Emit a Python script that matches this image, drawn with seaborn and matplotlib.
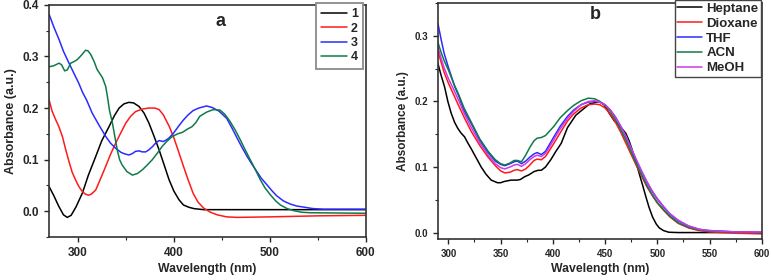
import matplotlib
matplotlib.use("Agg")
import matplotlib.pyplot as plt
import seaborn as sns
from matplotlib.ticker import MultipleLocator, FormatStrFormatter

# ---- panel a: compounds 1-4 (wavelength nm, absorbance) ----
wl_1 = [270, 275, 280, 285, 289, 293, 298, 304.7, 311, 318.6, 325, 332.5, 338, 343, 348, 353, 358, 363.75,
        369, 374, 379, 384.6, 390, 395, 400, 405.4, 410, 415.8, 421, 426, 431, 600]
abs_1 = [0.048, 0.03, 0.01, -0.007, -0.012, -0.008, 0.008, 0.035, 0.07, 0.106, 0.137, 0.164, 0.185, 0.2, 0.208,
         0.211, 0.21, 0.203, 0.19, 0.171, 0.147, 0.119, 0.089, 0.061, 0.039, 0.022, 0.012, 0.0075, 0.005, 0.004,
         0.003, 0.003]

wl_2 = [270, 273, 277, 280, 283.9, 287, 290.8, 294, 297.8, 301, 304.7, 308, 311, 314, 318.6, 323, 329, 334,
        339.4, 345, 350, 355, 360, 367, 374, 380, 384.6, 389, 395, 399.5, 405, 410, 415, 420, 425, 431, 438, 445,
        455, 466, 500, 550, 600]
abs_2 = [0.216, 0.195, 0.177, 0.165, 0.145, 0.122, 0.096, 0.076, 0.06, 0.048, 0.038, 0.033, 0.031, 0.033, 0.041,
         0.06, 0.087, 0.11, 0.132, 0.153, 0.171, 0.184, 0.193, 0.198, 0.2, 0.2, 0.197, 0.187, 0.165, 0.145, 0.115,
         0.087, 0.06, 0.035, 0.018, 0.006, -0.002, -0.007, -0.011, -0.012, -0.011, -0.009, -0.008]

wl_3 = [270, 275, 280.4, 285, 290.8, 296, 301, 305, 309, 315, 322, 329, 334, 339.4, 345, 349, 353.3, 357, 360,
        363.75, 367, 370.7, 374, 377.6, 381, 384.6, 389, 392, 395, 399.5, 405, 410, 415, 420, 426, 434, 440, 447,
        455, 460, 465, 470, 476, 481, 486, 491, 497, 502, 507, 514, 521, 528, 535, 545, 556, 600]
abs_3 = [0.382, 0.357, 0.333, 0.31, 0.287, 0.267, 0.248, 0.23, 0.216, 0.19, 0.167, 0.145, 0.132, 0.122, 0.114,
         0.111, 0.109, 0.112, 0.116, 0.117, 0.115, 0.115, 0.119, 0.125, 0.132, 0.137, 0.135, 0.138, 0.142, 0.151,
         0.165, 0.177, 0.187, 0.195, 0.2, 0.204, 0.201, 0.194, 0.18, 0.163, 0.145, 0.127, 0.107, 0.092, 0.078,
         0.064, 0.051, 0.04, 0.03, 0.02, 0.014, 0.01, 0.008, 0.005, 0.004, 0.004]

wl_4 = [270, 275, 280.4, 283, 286.3, 289, 292.6, 296, 299.5, 304, 308, 310.5, 313.4, 317, 320, 325.6, 329, 331,
        333, 336, 338.5, 341, 343.5, 346, 351, 356.8, 362, 367, 372, 377.6, 383, 388, 393, 398.5, 404, 409, 414,
        419, 423, 427, 434, 441, 448, 453, 458.5, 464, 469, 474, 479.5, 485, 490, 495, 500.4, 506, 511, 518, 525,
        533, 542, 600]
abs_4 = [0.28, 0.282, 0.287, 0.284, 0.272, 0.274, 0.287, 0.29, 0.294, 0.303, 0.312, 0.311, 0.304, 0.29, 0.275,
         0.259, 0.242, 0.22, 0.195, 0.171, 0.145, 0.119, 0.1, 0.09, 0.077, 0.07, 0.073, 0.08, 0.089, 0.1, 0.113,
         0.126, 0.136, 0.145, 0.15, 0.153, 0.159, 0.164, 0.172, 0.184, 0.192, 0.197, 0.196, 0.188, 0.174, 0.157,
         0.139, 0.12, 0.1, 0.08, 0.061, 0.045, 0.032, 0.02, 0.012, 0.005, 0.001, -0.002, -0.003, -0.004]

# ---- panel b: solvents ----
wl_hep = [290, 293, 296.4, 299.5, 302.7, 306, 309, 312, 315.5, 318.5, 321.8, 326.6, 331.4, 336, 341, 347, 350,
          353.7, 360, 366, 369, 372.8, 377, 382, 386, 389, 393, 398, 403, 408, 414, 422, 435, 444.5, 449, 454,
          459, 463.5, 467, 470, 473, 476, 479.5, 482.7, 486, 489, 492, 495.4, 499, 502, 506, 511, 520, 600]
abs_hep = [0.258, 0.24, 0.222, 0.2, 0.182, 0.168, 0.159, 0.152, 0.146, 0.137, 0.128, 0.114, 0.1, 0.089, 0.08,
           0.076, 0.076, 0.078, 0.08, 0.08, 0.081, 0.085, 0.088, 0.093, 0.095, 0.095, 0.1, 0.111, 0.124, 0.136,
           0.16, 0.179, 0.196, 0.2, 0.195, 0.182, 0.17, 0.164, 0.157, 0.151, 0.14, 0.126, 0.108, 0.09, 0.072,
           0.055, 0.039, 0.024, 0.013, 0.007, 0.003, 0.0005, 0.0, 0.0]

wl_sol = [290, 293, 296, 300, 306, 310, 315, 322, 330, 338, 345, 350, 354, 359, 363, 366, 370, 374, 378, 382, 385,
          389, 393, 397, 401, 407, 414, 420, 427, 434, 440, 445, 450, 455, 460, 465, 470, 475, 480, 485, 490, 495,
          500, 506, 512, 520, 530, 540, 550, 575, 600]
abs_diox = [0.277, 0.26, 0.244, 0.228, 0.207, 0.193, 0.176, 0.154, 0.133, 0.115, 0.102, 0.094, 0.091, 0.092,
            0.095, 0.096, 0.094, 0.097, 0.103, 0.11, 0.112, 0.111, 0.116, 0.126, 0.136, 0.152, 0.17, 0.181, 0.19,
            0.195, 0.196, 0.195, 0.19, 0.181, 0.168, 0.153, 0.136, 0.119, 0.102, 0.086, 0.07, 0.057, 0.045,
            0.034, 0.024, 0.014, 0.007, 0.003, 0.001, -0.001, -0.002]
abs_thf = [0.319, 0.295, 0.273, 0.252, 0.223, 0.208, 0.186, 0.166, 0.141, 0.122, 0.109, 0.104, 0.102, 0.105,
           0.108, 0.109, 0.105, 0.109, 0.115, 0.12, 0.122, 0.119, 0.124, 0.135, 0.146, 0.162, 0.177, 0.187, 0.195,
           0.199, 0.2, 0.199, 0.195, 0.187, 0.176, 0.162, 0.146, 0.128, 0.11, 0.093, 0.077, 0.063, 0.051, 0.039,
           0.028, 0.018, 0.01, 0.005, 0.003, 0.001, 0.0]
abs_acn = [0.29, 0.275, 0.262, 0.248, 0.224, 0.21, 0.19, 0.168, 0.143, 0.124, 0.111, 0.105, 0.103, 0.106, 0.11,
           0.11, 0.108, 0.118, 0.13, 0.14, 0.144, 0.145, 0.148, 0.155, 0.162, 0.175, 0.186, 0.194, 0.201, 0.205,
           0.204, 0.2, 0.194, 0.185, 0.172, 0.157, 0.141, 0.123, 0.105, 0.088, 0.072, 0.058, 0.046, 0.035, 0.025,
           0.015, 0.008, 0.004, 0.002, 0.001, 0.0]
abs_meoh = [0.283, 0.266, 0.251, 0.235, 0.215, 0.201, 0.182, 0.16, 0.137, 0.118, 0.105, 0.099, 0.097, 0.1, 0.103,
            0.104, 0.101, 0.105, 0.111, 0.116, 0.118, 0.116, 0.121, 0.131, 0.142, 0.158, 0.174, 0.185, 0.195, 0.2,
            0.201, 0.199, 0.195, 0.187, 0.176, 0.162, 0.147, 0.129, 0.111, 0.094, 0.078, 0.064, 0.052, 0.04,
            0.029, 0.019, 0.01, 0.005, 0.003, 0.001, 0.001]

sns.set_style("ticks")
plt.rcParams["font.family"] = ["Liberation Sans", "DejaVu Sans"]
plt.rcParams["font.weight"] = "bold"

BLACK, RED, BLUE, GREEN, MAGENTA = "#000000", "#ff1a1a", "#2b2bff", "#0f7a4a", "#cc3ae8"

fig = plt.figure(figsize=(7.71, 2.8), dpi=100)
ax_a = fig.add_axes([0.0636, 0.1536, 0.411, 0.829])
ax_b = fig.add_axes([0.568, 0.146, 0.420, 0.843])

# panel a
for wl, ab, lab, col in [(wl_1, abs_1, "1", BLACK), (wl_2, abs_2, "2", RED),
                         (wl_3, abs_3, "3", BLUE), (wl_4, abs_4, "4", GREEN)]:
    sns.lineplot(x=wl, y=ab, ax=ax_a, color=col, label=lab, linewidth=1.1, sort=False)
ax_a.set_xlim(270, 600)
ax_a.set_ylim(-0.05, 0.4)
ax_a.xaxis.set_major_locator(MultipleLocator(100))
ax_a.xaxis.set_minor_locator(MultipleLocator(50))
ax_a.text(0.54, 0.927, "a", transform=ax_a.transAxes, fontsize=13, fontweight="bold", ha="center", va="center")

# panel b
for wl, ab, lab, col in [(wl_hep, abs_hep, "Heptane", BLACK), (wl_sol, abs_diox, "Dioxane", RED),
                         (wl_sol, abs_thf, "THF", BLUE), (wl_sol, abs_acn, "ACN", GREEN),
                         (wl_sol, abs_meoh, "MeOH", MAGENTA)]:
    sns.lineplot(x=wl, y=ab, ax=ax_b, color=col, label=lab, linewidth=1.1, sort=False)
ax_b.set_xlim(290, 600)
ax_b.set_ylim(-0.01, 0.35)
ax_b.xaxis.set_major_locator(MultipleLocator(50))
ax_b.xaxis.set_minor_locator(MultipleLocator(25))
ax_b.text(0.485, 0.95, "b", transform=ax_b.transAxes, fontsize=13, fontweight="bold", ha="center", va="center")

for ax, fs, yfs in [(ax_a, 8.5, 9), (ax_b, 7, 8.5)]:
    ax.set_xlabel("Wavelength (nm)", fontsize=8.8, fontweight="bold", labelpad=3)
    ax.set_ylabel("Absorbance (a.u.)", fontsize=yfs, fontweight="bold")
    ax.yaxis.set_major_locator(MultipleLocator(0.1))
    ax.yaxis.set_minor_locator(MultipleLocator(0.05))
    ax.yaxis.set_major_formatter(FormatStrFormatter("%.1f"))
    ax.tick_params(axis="both", which="major", labelsize=fs, length=3.5, width=1, direction="out")
    ax.tick_params(axis="both", which="minor", length=2, width=0.8, direction="out")
    for lbl in ax.get_xticklabels() + ax.get_yticklabels():
        lbl.set_fontweight("bold")
    for sp in ax.spines.values():
        sp.set_linewidth(1.2)
        sp.set_color("#333333")

leg_a = ax_a.legend(loc="upper right", bbox_to_anchor=(363 / 771, 277 / 280), bbox_transform=fig.transFigure,
                    fontsize=9, frameon=True, fancybox=False, handlelength=2.1, borderpad=0.4,
                    labelspacing=0.2, handletextpad=0.3, borderaxespad=0)
leg_a.get_frame().set_edgecolor("#8a8a8a")
leg_a.get_frame().set_linewidth(1.3)
leg_b = ax_b.legend(loc="upper right", bbox_to_anchor=(761 / 771, 1.0), bbox_transform=fig.transFigure,
                    fontsize=9.5, frameon=True, fancybox=False, handlelength=1.9, borderpad=0.2,
                    labelspacing=0.2, handletextpad=0.3, borderaxespad=0)
leg_b.get_frame().set_edgecolor("#444444")
leg_b.get_frame().set_linewidth(1.0)
for leg in (leg_a, leg_b):
    leg.get_frame().set_alpha(1)
    for t in leg.get_texts():
        t.set_fontweight("bold")

fig.savefig("out.png", dpi=100)
